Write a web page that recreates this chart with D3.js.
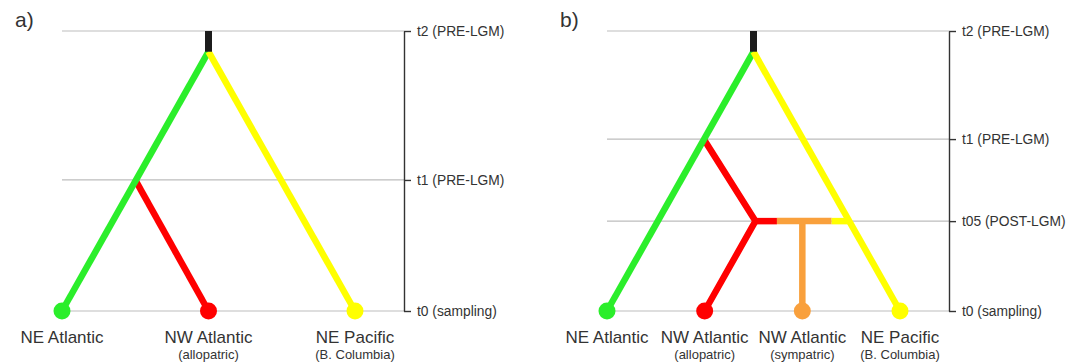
<!DOCTYPE html>
<html>
<head>
<meta charset="utf-8">
<script src="https://cdn.jsdelivr.net/npm/d3@7"></script>
<style>
  body { margin: 0; background: #fff; }
  text { font-family: "Liberation Sans", Arial, sans-serif; fill: #333; }
</style>
</head>
<body>
<div id="chart"></div>
<script>
var svgWidth = 1078;
var svgHeight = 364;

// time levels (0 = sampling, 1 = t2)
var timeLabelsA = ["t0 (sampling)", "t1 (PRE-LGM)", "t2 (PRE-LGM)"];
var timeValuesA = [0, 0.468, 1];
var timeLabelsB = ["t0 (sampling)", "t05 (POST-LGM)", "t1 (PRE-LGM)", "t2 (PRE-LGM)"];
var timeValuesB = [0, 0.321, 0.614, 1];
var rootAge = 0.926;

// sampled populations
var taxaA = ["NE Atlantic", "NW Atlantic", "NE Pacific"];
var notesA = ["", "(allopatric)", "(B. Columbia)"];
var tipLineageA = ["NEA", "NWA", "NEP"];
var taxaB = ["NE Atlantic", "NW Atlantic", "NW Atlantic", "NE Pacific"];
var notesB = ["", "(allopatric)", "(sympatric)", "(B. Columbia)"];
var tipLineageB = ["NEA", "NWA", "NWS", "NEP"];

// lineages and their colours
var lineages = ["stem", "NEA", "NWA", "NWS", "NEP"];
var lineageColors = ["#1c1c1c", "#2bee2b", "#ff0000", "#f9a03c", "#ffff00"];

// branches: [lineage, [taxon position, time], ...] - drawn in this order
var branchesA = [
  ["NWA", [0.5, 0.468], [1, 0]],
  ["NEA", [1, rootAge], [0, 0]],
  ["NEP", [1, rootAge], [2, 0]],
  ["stem", [1, 1], [1, rootAge]]
];
var branchesB = [
  ["NWS", [2, 0.321], [2, 0]],
  ["NWA", [0.99, 0.614], [1.52, 0.321], [1, 0]],
  ["NWA", [1.5, 0.321], [1.74, 0.321]],
  ["NWS", [1.74, 0.321], [2.3, 0.321]],
  ["NEP", [2.3, 0.321], [2.49, 0.321]],
  ["NEA", [1.5, rootAge], [0, 0]],
  ["NEP", [1.5, rootAge], [3, 0]],
  ["stem", [1.5, 1], [1.5, rootAge]]
];

var color = d3.scaleOrdinal().domain(lineages).range(lineageColors);

var svg = d3.select("#chart")
  .append("svg")
  .attr("width", svgWidth)
  .attr("height", svgHeight);

var panels = [
  { label: "a)", labelX: 15, x0: 62, x1: 355, axisX: 404, n: 3,
    times: timeValuesA, timeLabels: timeLabelsA, taxa: taxaA, notes: notesA,
    tips: tipLineageA, branches: branchesA },
  { label: "b)", labelX: 560, x0: 607, x1: 900, axisX: 949, n: 4,
    times: timeValuesB, timeLabels: timeLabelsB, taxa: taxaB, notes: notesB,
    tips: tipLineageB, branches: branchesB }
];

var yScale = d3.scaleLinear().domain([0, 1]).range([311, 31]);

panels.forEach(function(p) {
  var g = svg.append("g");
  var xScale = d3.scaleLinear().domain([0, p.n - 1]).range([p.x0, p.x1]);

  g.append("text")
    .attr("x", p.labelX)
    .attr("y", 27)
    .attr("font-size", 21)
    .text(p.label);

  // grey time lines
  g.selectAll("line.time")
    .data(p.times)
    .enter()
    .append("line")
    .attr("class", "time")
    .attr("x1", p.x0)
    .attr("x2", p.axisX)
    .attr("y1", d => yScale(d))
    .attr("y2", d => yScale(d))
    .attr("stroke", "#bdbdbd")
    .attr("stroke-width", 1.2);

  // time axis
  var axis = d3.axisRight(yScale)
    .tickValues(p.times)
    .tickFormat((d, i) => p.timeLabels[i])
    .tickSizeInner(7)
    .tickSizeOuter(0)
    .tickPadding(6);

  var ax = g.append("g")
    .attr("transform", `translate(${p.axisX}, 0)`)
    .call(axis);
  ax.select(".domain").attr("stroke", "#333").attr("stroke-width", 1.4);
  ax.selectAll(".tick line").attr("stroke", "#333").attr("stroke-width", 1.4);
  ax.selectAll(".tick text")
    .attr("font-family", "'Liberation Sans', Arial, sans-serif")
    .attr("font-size", 13.8)
    .attr("fill", "#333");

  // branches
  var line = d3.line()
    .x(d => xScale(d[0]))
    .y(d => yScale(d[1]));

  g.selectAll("path.branch")
    .data(p.branches)
    .enter()
    .append("path")
    .attr("class", "branch")
    .attr("d", d => line(d.slice(1)))
    .attr("fill", "none")
    .attr("stroke", d => color(d[0]))
    .attr("stroke-width", d => d[0] === "stem" ? 7 : 6.5)
    .attr("stroke-linejoin", "miter");

  // tips
  g.selectAll("circle")
    .data(p.tips)
    .enter()
    .append("circle")
    .attr("cx", (d, i) => xScale(i))
    .attr("cy", yScale(0))
    .attr("r", 8.5)
    .attr("fill", d => color(d));

  g.selectAll("text.taxon")
    .data(p.taxa)
    .enter()
    .append("text")
    .attr("class", "taxon")
    .attr("x", (d, i) => xScale(i))
    .attr("y", 343)
    .attr("text-anchor", "middle")
    .attr("font-size", 17)
    .text(d => d);

  g.selectAll("text.note")
    .data(p.notes)
    .enter()
    .append("text")
    .attr("class", "note")
    .attr("x", (d, i) => xScale(i))
    .attr("y", 359)
    .attr("text-anchor", "middle")
    .attr("font-size", 13)
    .text(d => d);
});
</script>
</body>
</html>
